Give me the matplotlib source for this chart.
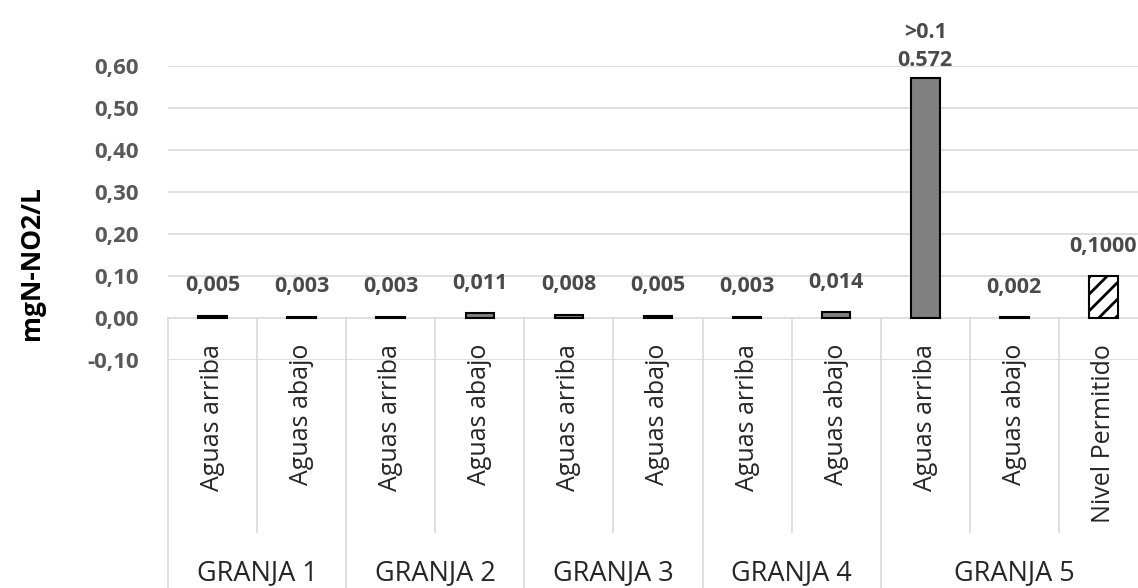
import matplotlib
matplotlib.use("Agg")
import matplotlib.pyplot as plt
from matplotlib.transforms import blended_transform_factory

plt.rcParams['font.family'] = ['Open Sans', 'DejaVu Sans']
plt.rcParams['hatch.linewidth'] = 2.0

# Data
farms = ["GRANJA 1", "GRANJA 2", "GRANJA 3", "GRANJA 4", "GRANJA 5"]
samples = ["Aguas arriba", "Aguas abajo", "Aguas arriba", "Aguas abajo",
           "Aguas arriba", "Aguas abajo", "Aguas arriba", "Aguas abajo",
           "Aguas arriba", "Aguas abajo", "Nivel Permitido"]
farm_sizes = [2, 2, 2, 2, 3]
values = [0.005, 0.003, 0.003, 0.011, 0.008, 0.005, 0.003, 0.014, 0.572, 0.002, 0.100]
value_labels = ["0,005", "0,003", "0,003", "0,011", "0,008", "0,005", "0,003",
                "0,014", ">0.1\n0.572", "0,002", "0,1000"]
yticks = [-0.10, 0.00, 0.10, 0.20, 0.30, 0.40, 0.50, 0.60]
ytick_labels = ["-0,10", "0,00", "0,10", "0,20", "0,30", "0,40", "0,50", "0,60"]

W, H = 1138, 588
fig = plt.figure(figsize=(W / 100, H / 100), dpi=100)
ax_left, ax_bottom = 168 / W, (H - 360) / H
ax_w, ax_h = (1148 - 168) / W, (360 - 66) / H
ax = fig.add_axes([ax_left, ax_bottom, ax_w, ax_h])

ymin, ymax = -0.10, 0.60
ax.set_ylim(ymin, ymax)
ax.set_xlim(-0.5, len(samples) - 0.5)

grid_color = "#d9d9d9"
ax.set_yticks(yticks)
ax.set_yticklabels(ytick_labels, fontsize=16, fontweight="bold", color="#595959")
ax.yaxis.grid(True, color=grid_color, linewidth=1.2)
ax.set_axisbelow(True)
for s in ax.spines.values():
    s.set_visible(False)
ax.tick_params(axis="y", length=0, pad=21)
ax.set_xticks([])

bar_w = 0.32
for i, v in enumerate(values):
    if samples[i] == "Nivel Permitido":
        ax.bar(i, v, width=bar_w, facecolor="white", edgecolor="black",
               hatch="//", linewidth=1.5, zorder=3)
    else:
        ax.bar(i, v, width=bar_w, facecolor="#808080", edgecolor="black",
               linewidth=1.5, zorder=3)

for i, (v, lab) in enumerate(zip(values, value_labels)):
    off = 5 if "\n" in lab else 14
    ax.annotate(lab, (i, v), xytext=(0, off), textcoords="offset points",
                ha="center", va="bottom", fontsize=15.5, fontweight="bold",
                color="#4a4a4a", linespacing=1.4)

# Category table below the plot
zero_fig = ax_bottom + (0 - ymin) / (ymax - ymin) * ax_h
tr = blended_transform_factory(ax.transData, fig.transFigure)
inner_bottom = 1 - 532 / H
bounds = [-0.5]
acc = -0.5
for n in farm_sizes:
    acc += n
    bounds.append(acc)
for k in range(len(samples) + 1):
    xb = k - 0.5
    y_end = 0.0 if xb in bounds else inner_bottom
    ax.plot([xb, xb], [zero_fig, y_end], color=grid_color, linewidth=1.2,
            transform=tr, clip_on=False)

for i, lab in enumerate(samples):
    ax.text(i, 1 - 344 / H, lab, rotation=90, ha="center", va="top",
            fontsize=18, color="#262626", transform=tr)

start = -0.5
for name, n in zip(farms, farm_sizes):
    ax.text(start + n / 2, 1 - 573 / H, name, ha="center", va="center",
            fontsize=19.5, color="#262626", transform=tr)
    start += n

fig.text(32 / W, 1 - 263 / H, "mgN-NO2/L", rotation=90, ha="center", va="center",
         fontsize=19, fontweight="bold", color="black")

fig.savefig("out.png", dpi=100)
